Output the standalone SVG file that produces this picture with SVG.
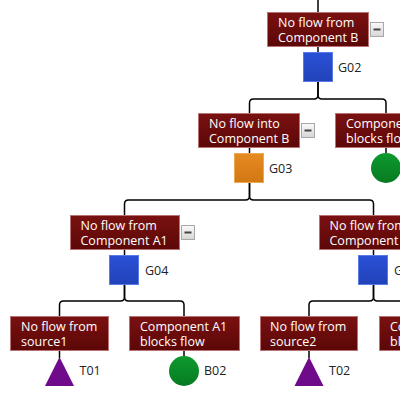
<svg xmlns="http://www.w3.org/2000/svg" width="400" height="400" viewBox="0 0 400 400">
<defs>
<linearGradient id="boxg" x1="0" y1="0" x2="0" y2="1"><stop offset="0" stop-color="#7a1111"/><stop offset="1" stop-color="#5c0707"/></linearGradient>
<linearGradient id="btng" x1="0" y1="0" x2="0" y2="1"><stop offset="0" stop-color="#fafafa"/><stop offset="1" stop-color="#d6d6d6"/></linearGradient>
<linearGradient id="blueg" x1="0" y1="0" x2="0" y2="1"><stop offset="0" stop-color="#2a50d6"/><stop offset="1" stop-color="#2142b8"/></linearGradient>
<linearGradient id="orangeg" x1="0" y1="0" x2="0" y2="1"><stop offset="0" stop-color="#e68a22"/><stop offset="1" stop-color="#d27812"/></linearGradient>
<linearGradient id="greeng" x1="0" y1="0" x2="0" y2="1"><stop offset="0" stop-color="#0d9a2e"/><stop offset="1" stop-color="#077a22"/></linearGradient>
</defs>
<style>
.box{fill:url(#boxg);stroke:#b87474;stroke-width:1}
.lbl{font-family:"Open Sans","Noto Sans",sans-serif;font-size:12.5px;fill:#ffffff}
.id{font-family:"Open Sans","Noto Sans",sans-serif;font-size:12.5px;fill:#222222}
.btn{fill:url(#btng);stroke:#a8a8a8;stroke-width:1}
.minus{stroke:#444444;stroke-width:2}
.gate{fill:url(#blueg);stroke:#5a7ae6;stroke-width:1}
.gateo{fill:url(#orangeg);stroke:#f0a850;stroke-width:1}
.basic{fill:url(#greeng)}
.tri{fill:#6f0a8a}
.con{fill:none;stroke:#000000;stroke-width:1.5}
</style>
<g id="connectors">
<path class="con" d="M318 0V12"/>
<path class="con" d="M318 46V52"/>
<path class="con" d="M318 82V95Q318 99 314 99H253.5Q249.5 99 249.5 103V113"/>
<path class="con" d="M318 82V95Q318 99 322 99H382Q386 99 386 103V113"/>
<path class="con" d="M249.5 147V153"/>
<path class="con" d="M386 147V153"/>
<path class="con" d="M249.5 183V196Q249.5 200 245.5 200H128.5Q124.5 200 124.5 204V215"/>
<path class="con" d="M249.5 183V196Q249.5 200 253.5 200H369.5Q373.5 200 373.5 204V215"/>
<path class="con" d="M124.5 249V255"/>
<path class="con" d="M373.5 249V255"/>
<path class="con" d="M124.5 285V297Q124.5 301 120.5 301H63.5Q59.5 301 59.5 305V316"/>
<path class="con" d="M124.5 285V297Q124.5 301 128.5 301H180Q184 301 184 305V316"/>
<path class="con" d="M373.5 285V297Q373.5 301 369.5 301H313Q309 301 309 305V316"/>
<path class="con" d="M373.5 285V297Q373.5 301 377.5 301H430Q434 301 434 305V316"/>
<path class="con" d="M59.5 350V358"/>
<path class="con" d="M184 350V357"/>
<path class="con" d="M309 350V358"/>
</g>
<g id="G02">
<rect class="box" x="267.5" y="12.5" width="101" height="34"/>
<text class="lbl" x="278" y="27">No flow from</text>
<text class="lbl" x="278" y="42">Component B</text>
<rect class="btn" x="370.5" y="22.5" width="13" height="14"/>
<line class="minus" x1="373.5" y1="29.5" x2="380.5" y2="29.5"/>
<rect class="gate" x="303.5" y="52.5" width="29" height="29"/>
<text class="id" x="338" y="72">G02</text>
</g>
<g id="G03">
<rect class="box" x="198.5" y="113.5" width="101" height="34"/>
<text class="lbl" x="209" y="128">No flow into</text>
<text class="lbl" x="209" y="143">Component B</text>
<rect class="btn" x="301.5" y="123.5" width="13" height="14"/>
<line class="minus" x1="304.5" y1="130.5" x2="311.5" y2="130.5"/>
<rect class="gateo" x="234.5" y="153.5" width="29" height="29"/>
<text class="id" x="269" y="173">G03</text>
</g>
<g id="B01">
<rect class="box" x="335.5" y="113.5" width="102" height="34"/>
<text class="lbl" x="346" y="128">Component B</text>
<text class="lbl" x="346" y="143">blocks flow</text>
<circle class="basic" cx="386" cy="168" r="15"/>
</g>
<g id="G04">
<rect class="box" x="70.5" y="215.5" width="109" height="34"/>
<text class="lbl" x="80.5" y="230">No flow from</text>
<text class="lbl" x="80.5" y="245">Component A1</text>
<rect class="btn" x="181.5" y="225.5" width="13" height="14"/>
<line class="minus" x1="184.5" y1="232.5" x2="191.5" y2="232.5"/>
<rect class="gate" x="109.5" y="255.5" width="29" height="29"/>
<text class="id" x="145" y="275">G04</text>
</g>
<g id="G05">
<rect class="box" x="319.5" y="215.5" width="109" height="34"/>
<text class="lbl" x="329.5" y="230">No flow from</text>
<text class="lbl" x="329.5" y="245">Component A2</text>
<rect class="gate" x="358.5" y="255.5" width="29" height="29"/>
<text class="id" x="394" y="275">G05</text>
</g>
<g id="T01">
<rect class="box" x="10.5" y="316.5" width="98" height="34"/>
<text class="lbl" x="21" y="331">No flow from</text>
<text class="lbl" x="21" y="346">source1</text>
<polygon class="tri" points="59.5,357 74,386 45,386"/>
<text class="id" x="79.5" y="375">T01</text>
</g>
<g id="B02">
<rect class="box" x="129.5" y="316.5" width="110" height="34"/>
<text class="lbl" x="140" y="331">Component A1</text>
<text class="lbl" x="140" y="346">blocks flow</text>
<circle class="basic" cx="184" cy="371" r="15"/>
<text class="id" x="204" y="375">B02</text>
</g>
<g id="T02">
<rect class="box" x="260.5" y="316.5" width="97" height="34"/>
<text class="lbl" x="270" y="331">No flow from</text>
<text class="lbl" x="270" y="346">source2</text>
<polygon class="tri" points="309,357 323.5,386 294.5,386"/>
<text class="id" x="329" y="375">T02</text>
</g>
<g id="B03">
<rect class="box" x="379.5" y="316.5" width="110" height="34"/>
<text class="lbl" x="390" y="331">Component A2</text>
<text class="lbl" x="390" y="346">blocks flow</text>
</g>
</svg>
